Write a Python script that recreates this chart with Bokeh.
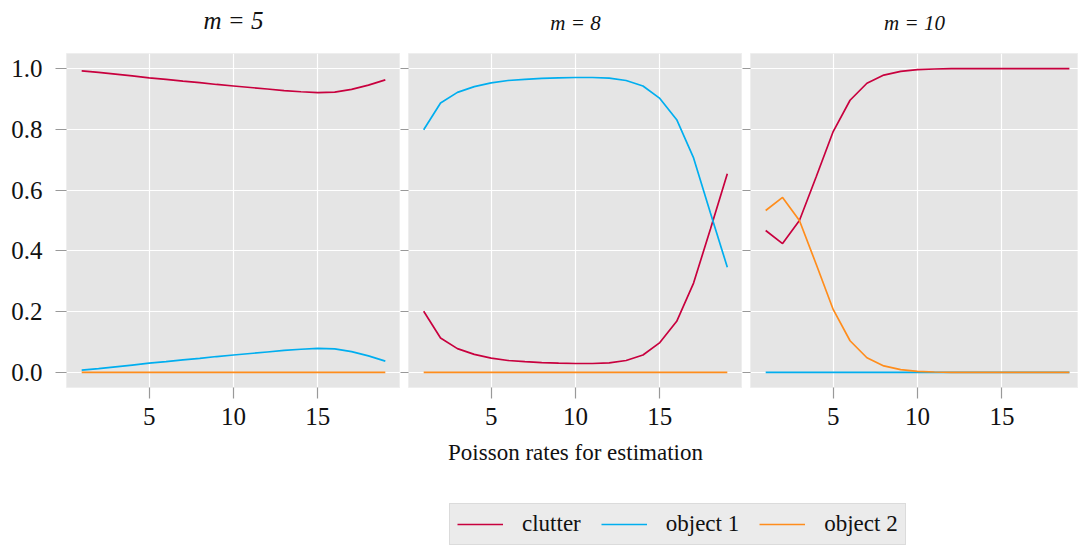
from bokeh.plotting import figure
from bokeh.layouts import row, column
from bokeh.models import (Range1d, FixedTicker, Legend, LegendItem,
                          CustomLabelingPolicy, LinearAxis)
from bokeh.embed import file_html
from bokeh.resources import INLINE

# Poisson rates used for estimation (x axis)
rates = [1, 2, 3, 4, 5, 6, 7, 8, 9, 10, 11, 12, 13, 14, 15, 16, 17, 18, 19]

# m = 5
m5_clutter = [0.993, 0.988, 0.982, 0.976, 0.970, 0.965, 0.959, 0.954, 0.948, 0.943,
              0.938, 0.933, 0.928, 0.924, 0.921, 0.923, 0.932, 0.946, 0.963]
m5_object1 = [0.007, 0.012, 0.018, 0.024, 0.030, 0.035, 0.041, 0.046, 0.052, 0.057,
              0.062, 0.067, 0.072, 0.076, 0.079, 0.077, 0.068, 0.054, 0.037]
m5_object2 = [0.0, 0.0, 0.0, 0.0, 0.0, 0.0, 0.0, 0.0, 0.0, 0.0,
              0.0, 0.0, 0.0, 0.0, 0.0, 0.0, 0.0, 0.0, 0.0]

# m = 8
m8_clutter = [0.201, 0.113, 0.078, 0.059, 0.047, 0.039, 0.035, 0.032, 0.030, 0.029,
              0.029, 0.031, 0.039, 0.057, 0.098, 0.168, 0.294, 0.472, 0.654]
m8_object1 = [0.799, 0.887, 0.922, 0.941, 0.953, 0.961, 0.965, 0.968, 0.970, 0.971,
              0.971, 0.969, 0.961, 0.943, 0.902, 0.832, 0.706, 0.525, 0.346]
m8_object2 = [0.0, 0.0, 0.0, 0.0, 0.0, 0.0, 0.0, 0.0, 0.0, 0.0,
              0.0, 0.0, 0.0, 0.0, 0.0, 0.0, 0.0, 0.0, 0.0]

# m = 10
m10_clutter = [0.467, 0.424, 0.500, 0.645, 0.793, 0.896, 0.952, 0.979, 0.991, 0.997,
               0.999, 1.0, 1.0, 1.0, 1.0, 1.0, 1.0, 1.0, 1.0]
m10_object1 = [0.0, 0.0, 0.0, 0.0, 0.0, 0.0, 0.0, 0.0, 0.0, 0.0,
               0.0, 0.0, 0.0, 0.0, 0.0, 0.0, 0.0, 0.0, 0.0]
m10_object2 = [0.533, 0.576, 0.500, 0.355, 0.207, 0.104, 0.048, 0.021, 0.009, 0.003,
               0.001, 0.0, 0.0, 0.0, 0.0, 0.0, 0.0, 0.0, 0.0]

series_names = ["clutter", "object 1", "object 2"]
series_colors = ["#c8003e", "#00aeef", "#ff8d1c"]

panel_titles = ["m = 5", "m = 8", "m = 10"]
panel_data = [
    [m5_clutter, m5_object1, m5_object2],
    [m8_clutter, m8_object1, m8_object2],
    [m10_clutter, m10_object1, m10_object2],
]

y_ticks = [0.0, 0.2, 0.4, 0.6, 0.8, 1.0]
y_tick_labels = ["0.0", "0.2", "0.4", "0.6", "0.8", "1.0"]
x_ticks = [5, 10, 15]
x_tick_labels = ["5", "10", "15"]
x_label = "Poisson rates for estimation"

FONT = "Liberation Serif"
PANEL_BG = "#e5e5e5"
TICK = "#999999"
FIG_H = 480

# (figure width, left border, visible right end of x range, heading size, heading standoff)
layout_spec = [
    (400, 66, 19.9, "25px", 20),
    (342, 8, 19.9, "21px", 19),
    (336, 8, 19.54, "21px", 19),
]

# inner panels keep their tick marks but draw no tick labels
no_labels = CustomLabelingPolicy(code="""
    for (const i of Array.from(indices))
        indices.unset(i)
    return indices
""")


def make_panel(i):
    width, left, x_end, tsize, tstand = layout_spec[i]
    p = figure(width=width, height=FIG_H,
               x_range=Range1d(0.1, x_end), y_range=Range1d(-0.05, 1.05),
               output_backend="svg", toolbar_location=None,
               min_border_left=left, min_border_right=0,
               min_border_top=53, min_border_bottom=FIG_H - 53 - 334)
    p.background_fill_color = PANEL_BG
    p.border_fill_color = "white"
    p.outline_line_color = "#eeeeee"
    p.outline_line_width = 1

    # panel heading: a tickless axis along the top carrying the label,
    # sharing the panel's x range so it is centred on the full panel
    head = LinearAxis(ticker=FixedTicker(ticks=[]), axis_label=panel_titles[i],
                      axis_line_color=None, major_tick_in=0, major_tick_out=0,
                      minor_tick_line_color=None, major_label_standoff=0,
                      axis_label_standoff=tstand,
                      axis_label_text_font=FONT, axis_label_text_font_style="italic",
                      axis_label_text_font_size=tsize, axis_label_text_color="#111111")
    p.add_layout(head, "above")

    for g in (p.xgrid, p.ygrid):
        g.grid_line_color = "white"
        g.grid_line_width = 1.2
    p.xgrid.ticker = FixedTicker(ticks=x_ticks)
    p.ygrid.ticker = FixedTicker(ticks=y_ticks)

    xa = p.below[0]
    xa.ticker = FixedTicker(ticks=x_ticks)
    xa.major_label_overrides = dict(zip(x_ticks, x_tick_labels))
    xa.axis_line_color = None
    xa.major_tick_in = 0
    xa.major_tick_out = 11
    xa.major_tick_line_color = TICK
    xa.major_tick_line_width = 1.2
    xa.minor_tick_line_color = None
    xa.major_label_text_font = FONT
    xa.major_label_text_font_size = "25px"
    xa.major_label_text_color = "#111111"
    xa.major_label_standoff = 9
    if i == 1:
        xa.axis_label = x_label
        xa.axis_label_text_font = FONT
        xa.axis_label_text_font_style = "normal"
        xa.axis_label_text_font_size = "23px"
        xa.axis_label_text_color = "#111111"
        xa.axis_label_standoff = 12

    ya = p.left[0]
    ya.ticker = FixedTicker(ticks=y_ticks)
    ya.axis_line_color = None
    ya.major_tick_in = 0
    ya.major_tick_line_color = TICK
    ya.major_tick_line_width = 1.2
    ya.minor_tick_line_color = None
    if i == 0:
        ya.major_tick_out = 11
        ya.major_label_overrides = dict(zip(y_ticks, y_tick_labels))
        ya.major_label_text_font = FONT
        ya.major_label_text_font_size = "25px"
        ya.major_label_text_color = "#111111"
        ya.major_label_standoff = 13
    else:
        ya.major_tick_out = 8
        ya.major_label_policy = no_labels
        ya.major_label_text_font_size = "0px"
        ya.major_label_standoff = 0

    for vals, color in zip(panel_data[i], series_colors):
        p.line(rates, vals, line_color=color, line_width=1.7)
    return p


panels = [make_panel(i) for i in range(3)]

# Shared legend strip underneath the panels; its lines sit outside the
# visible range so only the legend swatches show
leg = figure(width=1078, height=547 - FIG_H,
             x_range=Range1d(0, 1), y_range=Range1d(10, 11),
             x_axis_type=None, y_axis_type=None,
             output_backend="svg", toolbar_location=None, min_border=0)
leg.outline_line_color = None
leg.grid.visible = False
swatches = [leg.line(rates, vals, line_color=c, line_width=1.7)
            for vals, c in zip(panel_data[0], series_colors)]
legend = Legend(
    items=[LegendItem(label=n, renderers=[r]) for n, r in zip(series_names, swatches)],
    location=(449, 2), orientation="horizontal", margin=0,
    padding=7, spacing=20, label_standoff=19,
    glyph_width=46, glyph_height=22, label_height=22,
    label_text_font=FONT, label_text_font_size="23px", label_text_color="#111111",
    background_fill_color="#ebebeb", background_fill_alpha=1.0,
    border_line_color="#cccccc", border_line_width=1,
)
leg.add_layout(legend, "center")

page = column(row(*panels, spacing=0), leg, spacing=0)

open("out.html", "w").write(file_html(page, INLINE))
